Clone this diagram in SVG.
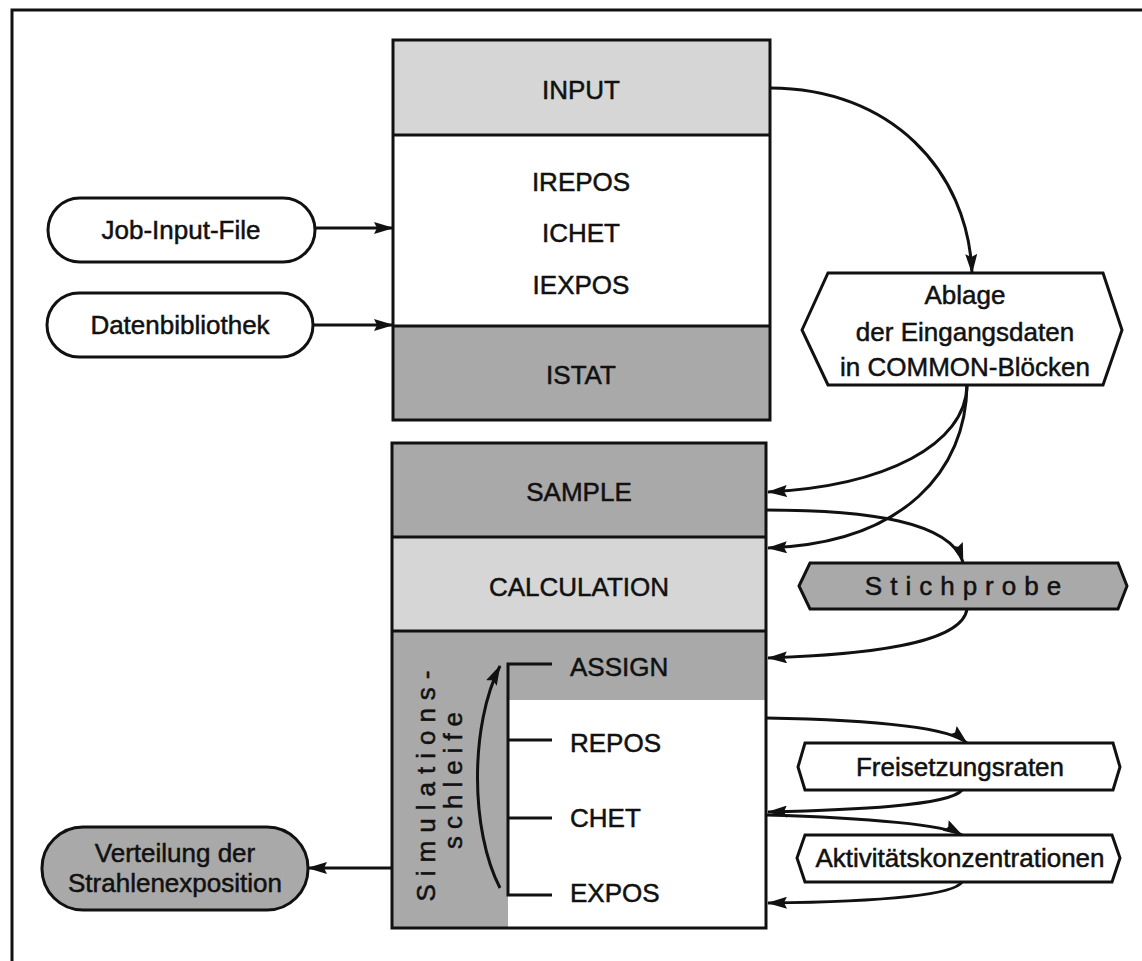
<svg xmlns="http://www.w3.org/2000/svg" width="1142" height="961" viewBox="0 0 1142 961">
  <style>
    text { font-family: "Liberation Sans", Arial, sans-serif; font-size: 26px; fill: #111; stroke: #111; stroke-width: 0.5; }
    .c { text-anchor: middle; }
    .box { stroke: #111; stroke-width: 3; fill: none; }
    .shape { stroke: #111; stroke-width: 3; }
    .light { fill: #d6d6d6; }
    .dark { fill: #a9a9a9; }
    .white { fill: #fff; }
    .wire { stroke: #111; stroke-width: 3; fill: none; }
    .arr { marker-end: url(#ah); }
  </style>
  <defs>
    <marker id="ah" viewBox="0 0 20 12" refX="19" refY="6" markerWidth="20" markerHeight="12" markerUnits="userSpaceOnUse" orient="auto">
      <path d="M0,0 L20,6 L0,12 L3,6 z" fill="#111"/>
    </marker>
  </defs>

  <rect width="1142" height="961" fill="#fff"/>
  <!-- page frame (top and left edges) -->
  <path d="M12,961 V10 H1142" stroke="#111" stroke-width="3" fill="none"/>

  <!-- upper program block -->
  <g id="input-block">
    <rect x="393" y="40" width="377" height="95" class="light"/>
    <rect x="393" y="135" width="377" height="191" class="white"/>
    <rect x="393" y="326" width="377" height="94" class="dark"/>
    <rect x="393" y="40" width="377" height="380" class="box"/>
    <line x1="393" y1="135" x2="770" y2="135" class="wire"/>
    <line x1="393" y1="326" x2="770" y2="326" class="wire"/>
    <text x="581" y="99" class="c">INPUT</text>
    <text x="581" y="191" class="c">IREPOS</text>
    <text x="581" y="242" class="c">ICHET</text>
    <text x="581" y="294" class="c">IEXPOS</text>
    <text x="581" y="384" class="c">ISTAT</text>
  </g>

  <!-- lower program block -->
  <g id="sim-block">
    <rect x="392" y="443" width="374" height="94" class="dark"/>
    <rect x="392" y="537" width="374" height="94" class="light"/>
    <rect x="392" y="631" width="374" height="297" class="white"/>
    <rect x="392" y="631" width="374" height="69" class="dark"/>
    <rect x="392" y="700" width="116" height="228" class="dark"/>
    <rect x="392" y="443" width="374" height="485" class="box"/>
    <line x1="392" y1="537" x2="766" y2="537" class="wire"/>
    <line x1="392" y1="631" x2="766" y2="631" class="wire"/>
    <text x="579" y="501" class="c">SAMPLE</text>
    <text x="579" y="596" class="c">CALCULATION</text>
    <!-- loop bracket -->
    <path d="M552,664 H508 V895 H552 M508,740 H552 M508,818 H552" class="wire"/>
    <path d="M500,888 C 470,830 470,725 500,666" class="wire arr"/>
    <text x="570" y="676">ASSIGN</text>
    <text x="570" y="752">REPOS</text>
    <text x="570" y="827">CHET</text>
    <text x="570" y="902">EXPOS</text>
    <text transform="translate(435,782) rotate(-90)" class="c" letter-spacing="8">Simulations-</text>
    <text transform="translate(462,777) rotate(-90)" class="c" letter-spacing="7">schleife</text>
  </g>

  <g id="job-input-file">
    <rect x="48" y="198" width="267" height="64" rx="32" class="shape white"/>
    <text x="181" y="239" class="c">Job-Input-File</text>
  </g>

  <g id="datenbibliothek">
    <rect x="47" y="293" width="266" height="64" rx="32" class="shape white"/>
    <text x="180" y="334" class="c">Datenbibliothek</text>
  </g>

  <g id="verteilung">
    <rect x="42" y="827" width="266" height="83" rx="41" class="shape dark"/>
    <text x="175" y="862" class="c">Verteilung der</text>
    <text x="175" y="892" class="c">Strahlenexposition</text>
  </g>

  <g id="ablage">
    <polygon points="802,330 828,273 1103,273 1122,330 1103,385 828,385" class="shape white"/>
    <text x="965" y="304" class="c">Ablage</text>
    <text x="965" y="341" class="c">der Eingangsdaten</text>
    <text x="965" y="376" class="c">in COMMON-Blöcken</text>
  </g>

  <g id="stichprobe">
    <polygon points="799,586 810,563 1118,563 1127,586 1118,609 810,609" class="shape dark"/>
    <text x="967" y="595" class="c" letter-spacing="8">Stichprobe</text>
  </g>

  <g id="freisetzungsraten">
    <polygon points="798,767 805,743 1113,743 1120,767 1113,790 805,790" class="shape white"/>
    <text x="960" y="776" class="c">Freisetzungsraten</text>
  </g>

  <g id="aktivitaetskonzentrationen">
    <polygon points="797,858 805,835 1112,835 1120,858 1112,882 805,882" class="shape white"/>
    <text x="960" y="867" class="c">Aktivitätskonzentrationen</text>
  </g>

  <g id="connectors">
    <line x1="315" y1="228" x2="393" y2="228" class="wire arr"/>
    <line x1="313" y1="325" x2="393" y2="325" class="wire arr"/>
    <line x1="392" y1="868" x2="308" y2="868" class="wire arr"/>
    <path d="M770,88 C 890,88 968,170 972,273" class="wire arr"/>
    <path d="M967,385 C 966,445 885,486 768,492" class="wire arr"/>
    <path d="M967,385 C 966,470 905,543 768,548" class="wire arr"/>
    <path d="M766,510 C 870,510 950,522 963,562" class="wire arr"/>
    <path d="M967,609 C 962,645 860,655 768,658" class="wire arr"/>
    <path d="M766,718 C 880,720 950,728 967,743" class="wire arr"/>
    <path d="M962,790 C 950,806 850,810 768,812" class="wire arr"/>
    <path d="M766,815 C 870,818 945,825 962,835" class="wire arr"/>
    <path d="M962,882 C 952,898 850,902 768,903" class="wire arr"/>
  </g>
</svg>
